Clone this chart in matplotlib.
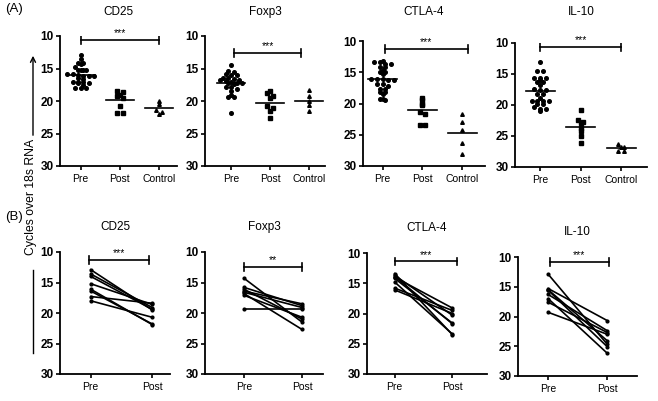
import numpy as np
import matplotlib
matplotlib.use('Agg')
from matplotlib import pyplot as plt

plt.rcParams['font.family'] = ['Liberation Sans', 'DejaVu Sans']

# --- data (cycles over 18s RNA) ---
genes = ['CD25', 'Foxp3', 'CTLA-4', 'IL-10']
groups_a = ['Pre', 'Post', 'Control']
groups_b = ['Pre', 'Post']
yticks = [10, 15, 20, 25, 30]

cd25_pre = [12.9, 13.6, 14.1, 14.2, 14.3, 14.8, 15.2, 15.2, 15.3, 15.3, 15.8, 15.9, 16.0, 16.1,
            16.2, 16.2, 16.5, 16.6, 17.0, 17.0, 17.1, 17.2, 17.3, 17.5, 18.0, 18.0, 18.0]
cd25_post = [18.4, 18.6, 19.1, 19.3, 19.5, 20.7, 21.8, 21.9]
cd25_ctrl = [20.05, 20.5, 21.4, 21.7, 22.05]

foxp3_pre = [14.4, 15.4, 15.6, 15.8, 16.0, 16.0, 16.5, 16.5, 16.6, 16.7, 16.8, 16.9, 17.1, 17.2,
             17.2, 17.3, 17.4, 17.8, 17.9, 18.1, 18.5, 19.1, 19.4, 19.4, 21.9]
foxp3_post = [18.5, 18.8, 19.2, 19.5, 20.8, 21.0, 21.5, 22.6]
foxp3_ctrl = [18.3, 19.2, 20.05, 20.6, 21.6]

ctla4_pre = [13.2, 13.4, 13.4, 13.7, 13.7, 14.2, 14.2, 14.7, 15.0, 15.0, 15.3, 16.0, 16.0, 16.1,
             16.2, 16.2, 16.8, 16.8, 17.2, 17.6, 17.6, 18.2, 18.2, 18.5, 19.2, 19.3, 19.4]
ctla4_post = [19.1, 19.4, 20.1, 20.3, 21.4, 21.6, 23.4, 23.5]
ctla4_ctrl = [21.75, 23.0, 24.3, 26.35, 28.1]

il10_pre = [13.0, 14.5, 14.5, 15.6, 15.6, 15.7, 15.9, 16.3, 16.3, 16.8, 17.4, 17.6, 17.6, 18.3,
            18.3, 18.8, 19.3, 19.3, 19.3, 19.4, 19.9, 19.9, 20.3, 20.7, 20.7, 21.0]
il10_post = [20.75, 22.4, 22.7, 22.9, 23.7, 24.2, 25.0, 26.1]
il10_ctrl = [26.3, 26.7, 26.8, 27.5, 27.5]

# paired samples (B)
cd25_b_pre = [12.9, 13.6, 14.0, 15.2, 16.1, 16.4, 17.3, 18.0]
cd25_b_post = [19.5, 19.1, 19.4, 18.6, 21.9, 21.8, 18.4, 20.7]
foxp3_b_pre = [14.3, 15.8, 16.1, 16.4, 16.6, 16.8, 17.1, 19.3]
foxp3_b_post = [21.5, 18.8, 21.0, 18.5, 19.1, 22.7, 20.7, 19.3]
ctla4_b_pre = [13.4, 13.7, 13.9, 14.0, 14.2, 14.8, 15.8, 16.1]
ctla4_b_post = [23.5, 20.3, 21.7, 19.1, 21.6, 23.4, 19.5, 20.0]
il10_b_pre = [12.9, 15.3, 15.5, 15.6, 16.3, 17.0, 17.6, 19.3]
il10_b_post = [24.7, 20.7, 24.1, 25.1, 22.4, 26.2, 22.7, 23.0]

stars_a = ['***', '***', '***', '***']
stars_b = ['***', '**', '***', '***']

data_a = [(cd25_pre, cd25_post, cd25_ctrl), (foxp3_pre, foxp3_post, foxp3_ctrl),
          (ctla4_pre, ctla4_post, ctla4_ctrl), (il10_pre, il10_post, il10_ctrl)]
data_b = [(cd25_b_pre, cd25_b_post), (foxp3_b_pre, foxp3_b_post),
          (ctla4_b_pre, ctla4_b_post), (il10_b_pre, il10_b_post)]

# --- layout (pixels: left, right, top, bottom) ---
W, H = 658, 401
box_a = [(60, 177, 36, 166), (205, 325, 36, 166), (363, 485, 41, 166), (515, 647, 43, 167)]
box_b = [(60, 170, 252, 374), (205, 323, 252, 374), (367, 487, 253, 374), (518, 637, 257, 376)]
xlim_a = [(-0.53, 2.46), (-0.67, 2.41), (-0.49, 2.57), (-0.62, 2.64)]
xlim_b = [(-0.5, 1.29), (-0.67, 1.36), (-0.48, 1.6), (-0.51, 1.5)]
bar_a = [(0, 2, 10.6), (0.08, 1.8, 12.6), (0.05, 2.15, 11.3), (0, 2, 10.65)]
bar_b = [(-0.03, 0.95, 11.3), (0, 1, 12.5), (0.01, 1.08, 11.4), (0.03, 1.02, 10.8)]
markers = ['o', 's', '^']


def make_ax(fig, box):
    l, r, t, b = box
    ax = fig.add_axes([l / W, 1 - b / H, (r - l) / W, (b - t) / H])
    ax.spines['top'].set_visible(False)
    ax.spines['right'].set_visible(False)
    for s in ['left', 'bottom']:
        ax.spines[s].set_linewidth(1.3)
    ax.set_ylim(30, 10)
    ax.set_yticks(yticks)
    ax.set_yticklabels([str(v) for v in yticks], fontsize=8.5, fontweight='bold')
    ax.tick_params(axis='both', direction='out', length=3, width=1.2, pad=1.5)
    ax.tick_params(axis='x', labelsize=7.5, pad=2.5)
    return ax


def swarm(vals, step=0.14, bin_h=0.5):
    # spread points of similar value sideways, like a column scatter
    vals = np.asarray(vals)
    off = np.zeros(len(vals))
    keys = np.round(vals / bin_h)
    for k in np.unique(keys):
        idx = np.where(keys == k)[0]
        n = len(idx)
        off[idx] = (np.arange(n) - (n - 1) / 2) * step
    return off


def sig_bar(ax, x0, x1, y, txt):
    ax.plot([x0, x1], [y, y], color='black', lw=1.2)
    ax.plot([x0, x0], [y - 0.65, y + 0.65], color='black', lw=1.2)
    ax.plot([x1, x1], [y - 0.65, y + 0.65], color='black', lw=1.2)
    ax.text((x0 + x1) / 2, y - 0.3, txt, ha='center', va='bottom', fontsize=7.5)


fig = plt.figure(figsize=(W / 100, H / 100), dpi=100)

# (A) scatter with means
for i in range(4):
    ax = make_ax(fig, box_a[i])
    for j, vals in enumerate(data_a[i]):
        ax.plot(j + swarm(vals), vals, linestyle='none', marker=markers[j],
                ms=2.6, color='black')
        m = np.mean(vals)
        ax.plot([j - 0.36, j + 0.36], [m, m], color='black', lw=1.2)
    ax.set_xlim(*xlim_a[i])
    ax.set_xticks(range(3))
    ax.set_xticklabels(groups_a)
    sig_bar(ax, bar_a[i][0], bar_a[i][1], bar_a[i][2], stars_a[i])
    l, r, t, b = box_a[i]
    fig.text((l + r) / 2 / W, 1 - 12 / H, genes[i], ha='center', va='center', fontsize=8.5)

# (B) paired lines
for i in range(4):
    ax = make_ax(fig, box_b[i])
    pre, post = data_b[i]
    for p0, p1 in zip(pre, post):
        ax.plot([0, 1], [p0, p1], color='black', lw=1.2, marker='o', ms=2.0)
    ax.set_xlim(*xlim_b[i])
    ax.set_xticks(range(2))
    ax.set_xticklabels(groups_b)
    sig_bar(ax, bar_b[i][0], bar_b[i][1], bar_b[i][2], stars_b[i])
    l, r, t, b = box_b[i]
    fig.text((l + r) / 2 / W, 1 - (t - 25) / H, genes[i], ha='center', va='center', fontsize=8.5)

fig.text(14 / W, 1 - 9 / H, '(A)', ha='center', va='center', fontsize=9.5)
fig.text(14 / W, 1 - 217 / H, '(B)', ha='center', va='center', fontsize=9.5)
fig.text(31 / W, 1 - 197 / H, 'Cycles over 18s RNA', rotation=90, ha='center', va='center',
         fontsize=8.8)

# arrow above and line below the y label
fig.add_artist(matplotlib.patches.FancyArrowPatch((33 / W, 1 - 138 / H), (33 / W, 1 - 53 / H),
                                                  transform=fig.transFigure, arrowstyle='->',
                                                  mutation_scale=9, lw=1.0, color='black'))
fig.add_artist(matplotlib.lines.Line2D([33 / W, 33 / W], [1 - 270 / H, 1 - 353 / H],
                                       transform=fig.transFigure, color='black', lw=1.0))

fig.savefig('out.png', dpi=100)
